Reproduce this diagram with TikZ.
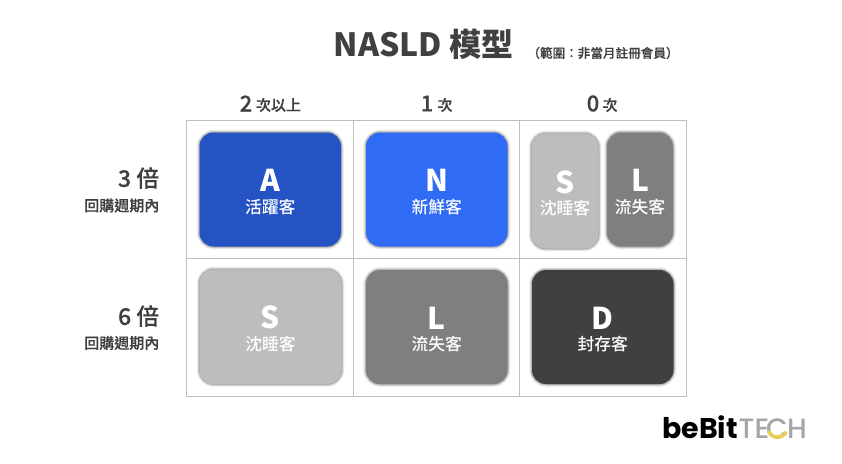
\documentclass[tikz,border=0pt]{standalone}
\usepackage{fontspec}
\setmainfont{Noto Sans CJK TC}
\newfontfamily\medfont[FakeBold=0.35]{Noto Sans CJK TC Medium}
\newfontfamily\medplain{Noto Sans CJK TC Medium}
\newfontfamily\logofont{Poppins}
\newfontfamily\logomed{Poppins Medium}
\usetikzlibrary{calc}
\definecolor{ink}{HTML}{404040}
\definecolor{gridc}{HTML}{BFBFBF}
\definecolor{cA}{HTML}{2553C4}
\definecolor{cN}{HTML}{2F6BF5}
\definecolor{cS}{HTML}{BDBDBD}
\definecolor{cL}{HTML}{7F7F7F}
\definecolor{cD}{HTML}{404040}
\definecolor{logoY}{HTML}{E8CF55}
\definecolor{logoG}{HTML}{A6A6A6}
\tikzset{
 x=1pt,y=-1pt,
 gridline/.style={draw=gridc,line width=1pt},
 shadowring/.style={draw=black,draw opacity=#1,fill opacity=0},
 card/.style={rounded corners=14pt,inner sep=0pt},
 letter/.style={font=\fontsize{30}{30}\selectfont\bfseries,text=white,anchor=center,inner sep=0pt},
 sublabel/.style={font=\medplain\fontsize{16.8}{16.8}\selectfont,text=white,anchor=center,inner sep=0pt},
 head/.style={font=\medfont\fontsize{22}{22}\selectfont,text=ink,inner sep=0pt},
 headsmall/.style={font=\medfont\fontsize{15}{15}\selectfont,text=ink,inner sep=0pt},
 rowhead/.style={font=\medfont\fontsize{23}{23}\selectfont,text=ink,anchor=east,inner sep=0pt},
 rowsub/.style={font=\medfont\fontsize{15}{15}\selectfont,text=ink,anchor=east,inner sep=0pt},
}
\newcommand{\cardbox}[8]{% name, left, top, right, bottom, colour, letter, label
 \foreach \w/\o in {6/.03,5/.04,4/.05,3/.07,2/.09,1/.11}
   \draw[card,shadowring=\o,line width=\w pt] (#2+.5,#3+.5) rectangle (#4-.5,#5-.5);
 \fill[card,fill=#6] (#2+.5,#3+.5) rectangle (#4-.5,#5-.5);
 \node[letter] (#1l) at ({(#2+#4)/2},{(#3+#5)/2-9}) {#7};
 \node[sublabel] (#1s) at ({(#2+#4)/2},{(#3+#5)/2+17.5}) {#8};
}
\begin{document}
\begin{tikzpicture}
\useasboundingbox (0,0) rectangle (842,463);
\fill[white] (0,0) rectangle (842,463);
% title
\node[font=\fontsize{32}{32}\selectfont\bfseries,text=ink,inner sep=0pt] (title) at (423.5,44.5) {NASLD 模型};
\node[font=\medfont\fontsize{12.6}{12.6}\selectfont,text=ink,inner sep=0pt] (scope1) at (603,53) {（範圍：非當月註冊會員）};
% column headers
\node[head] (c1) at (246,103.5) {2};
\node[headsmall] (c1b) at (278.5,105) {次以上};
\node[head] (c2) at (427,103.5) {1};
\node[headsmall] (c2b) at (445,105) {次};
\node[head] (c3) at (593,103.5) {0};
\node[headsmall] (c3b) at (610,105) {次};
% row headers
\node[rowhead] (r1) at (159.5,178) {3 倍};
\node[rowsub] (r1b) at (159.5,205.5) {回購週期內};
\node[rowhead] (r2) at (159.5,316) {6 倍};
\node[rowsub] (r2b) at (159.5,343) {回購週期內};
% grid
\draw[gridline] (186.5,120.5) rectangle (686.5,396.5);
\draw[gridline] (353,120.5) -- (353,396.5);
\draw[gridline] (519.5,120.5) -- (519.5,396.5);
\draw[gridline] (186.5,258.5) -- (686.5,258.5);
% cards
\cardbox{A}{199}{132}{341.5}{247}{cA}{A}{活躍客}
\cardbox{N}{365.5}{132}{508}{247}{cN}{N}{新鮮客}
\cardbox{SA}{531}{133}{599}{249}{cS}{S}{沈睡客}
\cardbox{LA}{606.5}{132}{673.5}{247}{cL}{L}{流失客}
\cardbox{SB}{199}{269}{342}{384.5}{cS}{S}{沈睡客}
\cardbox{LB}{365.5}{269.5}{508}{384.5}{cL}{L}{流失客}
\cardbox{D}{531.5}{269.5}{674}{384.5}{cD}{D}{封存客}
% logo
\node[font=\logofont\fontsize{28.5}{28.5}\selectfont\bfseries,text=black,anchor=base west,inner sep=0pt] (logoa) at (662,438.5) {beBit};
\node[font=\logomed\fontsize{28}{28}\selectfont,text=logoG,anchor=base west,inner sep=0pt] (logob) at (738.5,438) {TE};
\node[font=\logomed\fontsize{28}{28}\selectfont,text=logoG,anchor=base west,inner sep=0pt] (logoc) at (766,438) {C};
\node[font=\logomed\fontsize{28}{28}\selectfont,text=logoG,anchor=base west,inner sep=0pt] (logod) at (787,438) {H};
\draw[logoY,line width=3.6pt] ($(logoc.center)+(-8.6,2.5)$) .. controls ($(logoc.center)+(-6,11)$) and ($(logoc.center)+(6,11)$) .. ($(logoc.center)+(9,3.5)$);
\end{tikzpicture}
\end{document}
